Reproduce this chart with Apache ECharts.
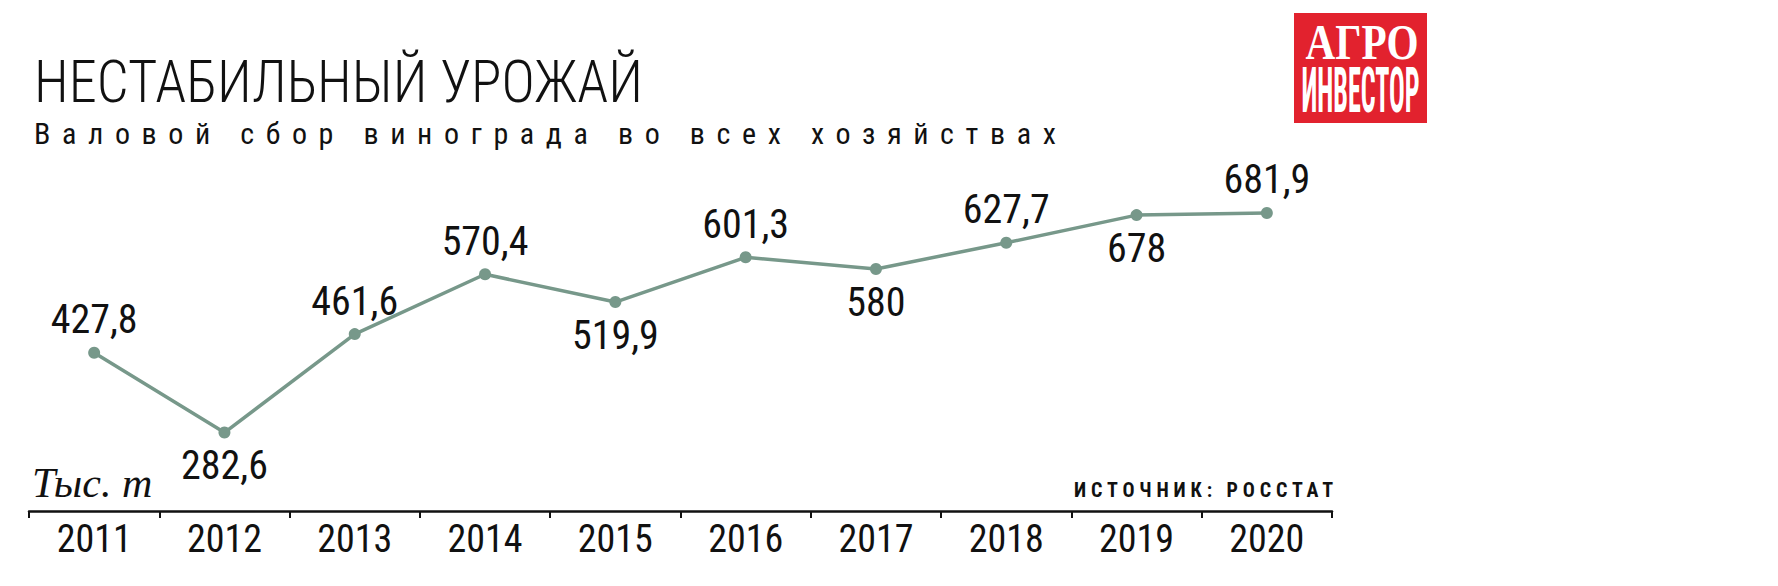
<!DOCTYPE html>
<html><head><meta charset="utf-8">
<script src="https://cdn.jsdelivr.net/npm/echarts@6/dist/echarts.min.js"></script>
<style>html,body{margin:0;padding:0;background:#fff}#c{width:1778px;height:586px}</style>
</head><body><div id="c"></div>
<script>
// ---- data ----
const years = ['2011','2012','2013','2014','2015','2016','2017','2018','2019','2020'];
const harvest = [427.8, 282.6, 461.6, 570.4, 519.9, 601.3, 580, 627.7, 678, 681.9];
const TITLE = 'НЕСТАБИЛЬНЫЙ УРОЖАЙ';
const SUBTITLE = 'Валовой сбор винограда во всех хозяйствах';
const UNIT = 'Тыс. т';
const SOURCE = 'ИСТОЧНИК: РОССТАТ';
const LOGO_TOP = 'АГРО';
const LOGO_BOTTOM = 'ИНВЕСТОР';

// ---- styling ----
const labelSide = ['top','bottom','top','top','bottom','top','bottom','top','bottom','top'];
const COND = '"Roboto Condensed", "Open Sans Condensed", sans-serif';
const mctx = document.createElement('canvas').getContext('2d');
function tw(text, font){ mctx.font = font; return mctx.measureText(text).width; }

const titleFont = '300 60px ' + COND;
const subFont = '30px ' + COND;
const srcFont = 'bold 20px ' + COND;
const unitFont = 'italic 42px "Liberation Serif", serif';
const logo1Font = 'bold 51px "Liberation Serif", serif';
const logo2Font = 'bold 63px ' + COND;

const titleSX = 609 / tw(TITLE, titleFont);
const subLS = (1022 - tw(SUBTITLE, subFont)) / (SUBTITLE.length - 1);
const srcLS = (259 - tw(SOURCE, srcFont)) / (SOURCE.length - 1);
const logo1SX = 113 / tw(LOGO_TOP, logo1Font);
const logo2SX = 118 / tw(LOGO_BOTTOM, logo2Font);

const dom = document.getElementById('c');
const chart = echarts.init(dom, null, {renderer: 'svg'});
const LINE = '#77988a';

chart.setOption({
  animation: false,
  backgroundColor: '#ffffff',
  grid: {left: 29, right: 446, top: 181, bottom: 75},
  xAxis: {
    type: 'category',
    data: years,
    boundaryGap: true,
    axisLine: {lineStyle: {color: '#111', width: 2.5}},
    axisTick: {show: true, length: 7, lineStyle: {color: '#111', width: 2}},
    axisLabel: {color: '#111', fontFamily: COND, fontSize: 38, margin: 9}
  },
  yAxis: {type: 'value', min: 140, max: 740, show: false, splitLine: {show: false}},
  series: [{
    type: 'line',
    data: harvest.map((v, i) => ({value: v, label: {position: labelSide[i]}})),
    lineStyle: {color: LINE, width: 3.5},
    itemStyle: {color: LINE},
    symbol: 'circle',
    symbolSize: 12,
    label: {
      show: true, distance: 7, color: '#111', fontFamily: COND, fontSize: 40,
      formatter: p => String(p.value).replace('.', ',')
    }
  }],
  graphic: [
    {type: 'text', x: 34, y: 81, scaleX: titleSX, originX: 0,
     style: {text: TITLE, font: titleFont, fill: '#111', textAlign: 'left', textVerticalAlign: 'middle'}},
    {type: 'text', x: 34, y: 133,
     style: {text: SUBTITLE, font: subFont, fill: '#111', textAlign: 'left', textVerticalAlign: 'middle'}},
    {type: 'text', x: 32, y: 483,
     style: {text: UNIT, font: unitFont, fill: '#111', textAlign: 'left', textVerticalAlign: 'middle'}},
    {type: 'text', x: 1074, y: 490,
     style: {text: SOURCE, font: srcFont, fill: '#111', textAlign: 'left', textVerticalAlign: 'middle'}},
    {type: 'rect', shape: {x: 1294, y: 13, width: 133, height: 110}, style: {fill: '#e2222e'}},
    {type: 'text', x: 1362, y: 42, scaleX: logo1SX, originX: 0,
     style: {text: LOGO_TOP, font: logo1Font, fill: '#fff', textAlign: 'center', textVerticalAlign: 'middle'}},
    {type: 'text', x: 1360.5, y: 90, scaleX: logo2SX, originX: 0,
     style: {text: LOGO_BOTTOM, font: logo2Font, fill: '#fff', textAlign: 'center', textVerticalAlign: 'middle'}}
  ]
});

function applySpacing(){
  dom.querySelectorAll('text').forEach(t => {
    if (t.textContent === SUBTITLE) t.setAttribute('letter-spacing', subLS.toFixed(2));
    if (t.textContent === SOURCE) t.setAttribute('letter-spacing', srcLS.toFixed(2));
  });
}
chart.on('finished', applySpacing);
applySpacing();
setTimeout(applySpacing, 50);
setTimeout(applySpacing, 300);
</script>
</body></html>
